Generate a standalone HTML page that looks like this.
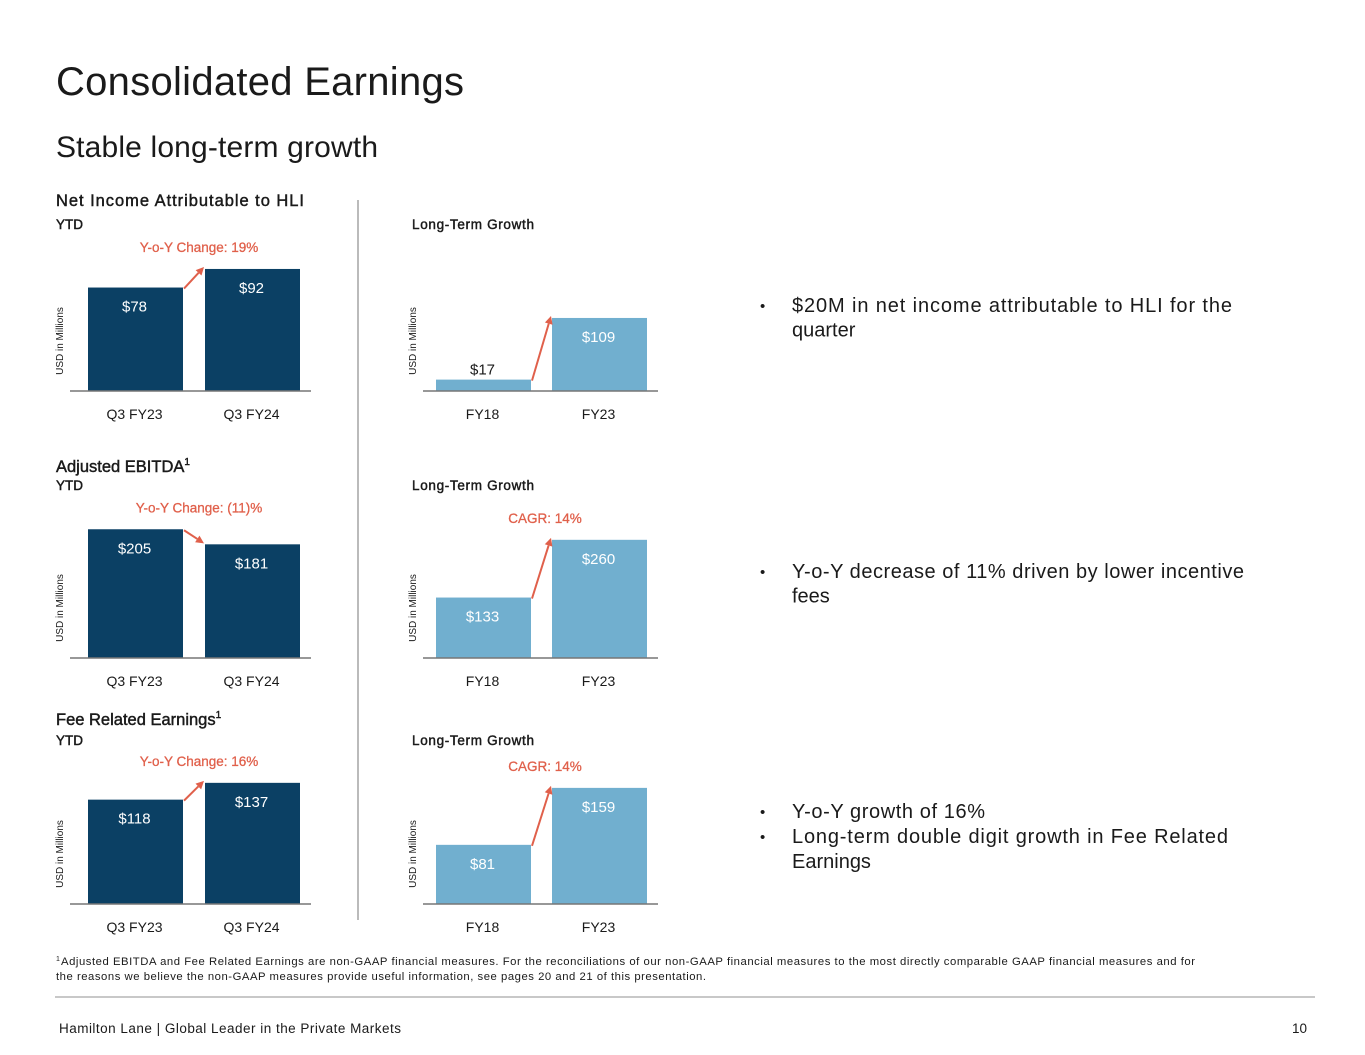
<!DOCTYPE html>
<html><head><meta charset="utf-8">
<style>
html,body{margin:0;padding:0;background:#fff;}
svg{display:block;font-family:"Liberation Sans",sans-serif;}
.hd{stroke:#1a1a1a;stroke-width:0.45;}
</style></head>
<body>
<svg id="s" width="1365" height="1055" viewBox="0 0 1365 1055" xmlns="http://www.w3.org/2000/svg">
<text x="56" y="95" font-size="40" fill="#1a1a1a" textLength="408">Consolidated Earnings</text>
<text x="56" y="157" font-size="30" fill="#1a1a1a" textLength="322">Stable long-term growth</text>
<line x1="358" y1="200" x2="358" y2="920" stroke="#bbb" stroke-width="2"/>

<text class="hd" x="56" y="206" font-size="16.5" fill="#1a1a1a" textLength="248">Net Income Attributable to HLI</text>
<text class="hd" x="56" y="229" font-size="13.5" fill="#1a1a1a">YTD</text>
<text class="hd" x="412" y="229" font-size="13.5" fill="#1a1a1a" textLength="122">Long-Term Growth</text>

<text class="hd" x="56" y="472" font-size="16.5" fill="#1a1a1a">Adjusted EBITDA<tspan font-size="10" dy="-7">1</tspan></text>
<text class="hd" x="56" y="490" font-size="13.5" fill="#1a1a1a">YTD</text>
<text class="hd" x="412" y="490" font-size="13.5" fill="#1a1a1a" textLength="122">Long-Term Growth</text>

<text class="hd" x="56" y="725" font-size="16.5" fill="#1a1a1a">Fee Related Earnings<tspan font-size="10" dy="-7">1</tspan></text>
<text class="hd" x="56" y="745" font-size="13.5" fill="#1a1a1a">YTD</text>
<text class="hd" x="412" y="745" font-size="13.5" fill="#1a1a1a" textLength="122">Long-Term Growth</text>

<g font-size="20" fill="#1a1a1a">
<text x="760" y="311" font-size="15">•</text><text x="792" y="312"><tspan x="792" textLength="440">$20M in net income attributable to HLI for the</tspan><tspan x="792" dy="24.5">quarter</tspan></text>
<text x="760" y="577" font-size="15">•</text><text x="792" y="578"><tspan x="792" textLength="452">Y-o-Y decrease of 11% driven by lower incentive</tspan><tspan x="792" dy="24.5">fees</tspan></text>
<text x="760" y="817" font-size="15">•</text><text x="792" y="818" textLength="193">Y-o-Y growth of 16%</text>
<text x="760" y="842" font-size="15">•</text><text x="792" y="843"><tspan x="792" textLength="436">Long-term double digit growth in Fee Related</tspan><tspan x="792" dy="25">Earnings</tspan></text>
</g>

<text font-size="11.3" fill="#1a1a1a"><tspan x="56" y="961" font-size="7">1</tspan><tspan x="61" y="965" textLength="1134">Adjusted EBITDA and Fee Related Earnings are non-GAAP financial measures. For the reconciliations of our non-GAAP financial measures to the most directly comparable GAAP financial measures and for</tspan><tspan x="56" y="980" textLength="650">the reasons we believe the non-GAAP measures provide useful information, see pages 20 and 21 of this presentation.</tspan></text>
<line x1="55" y1="997" x2="1315" y2="997" stroke="#c8c8c8" stroke-width="2"/>
<text x="59" y="1033" font-size="13.5" fill="#1a1a1a" textLength="342">Hamilton Lane  |  Global Leader in the Private Markets</text>
<text x="1307" y="1033" font-size="13.5" fill="#1a1a1a" text-anchor="end">10</text>
<g id="charts"></g>
</svg>
<script>
const ytdCats = ['Q3 FY23', 'Q3 FY24'];
const ltCats = ['FY18', 'FY23'];
const netYtdVals = [78, 92];
const netLtVals = [17, 109];
const ebitdaYtdVals = [205, 181];
const ebitdaLtVals = [133, 260];
const freYtdVals = [118, 137];
const freLtVals = [81, 159];
const changeLabels = ['Y-o-Y Change: 19%', 'Y-o-Y Change: (11)%', 'Y-o-Y Change: 16%'];
const cagrLabels = ['', 'CAGR: 14%', 'CAGR: 14%'];

const NS = 'http://www.w3.org/2000/svg';
const root = document.getElementById('charts');
function mk(tag, attrs, parent) {
  const e = document.createElementNS(NS, tag);
  for (const k in attrs) e.setAttribute(k, attrs[k]);
  (parent || root).appendChild(e);
  return e;
}
const DARK = '#0b4064', LIGHT = '#71afcf', RED = '#e0604b';
const H = 130;
const specs = [
  {name:'net-income-ytd', vals:netYtdVals, cats:ytdCats, base:391, ax0:70, ax1:311, bx:[88,205], max:98, color:DARK, label:changeLabels[0], lx:199},
  {name:'net-income-lt', vals:netLtVals, cats:ltCats, base:391, ax0:423, ax1:658, bx:[436,552], max:194, color:LIGHT, label:cagrLabels[0], lx:545},
  {name:'ebitda-ytd', vals:ebitdaYtdVals, cats:ytdCats, base:658, ax0:70, ax1:311, bx:[88,205], max:207, color:DARK, label:changeLabels[1], lx:199},
  {name:'ebitda-lt', vals:ebitdaLtVals, cats:ltCats, base:658, ax0:423, ax1:658, bx:[436,552], max:286, color:LIGHT, label:cagrLabels[1], lx:545},
  {name:'fre-ytd', vals:freYtdVals, cats:ytdCats, base:904, ax0:70, ax1:311, bx:[88,205], max:147, color:DARK, label:changeLabels[2], lx:199},
  {name:'fre-lt', vals:freLtVals, cats:ltCats, base:904, ax0:423, ax1:658, bx:[436,552], max:178, color:LIGHT, label:cagrLabels[2], lx:545}
];
const BW = 95;
specs.forEach(function(sp) {
  const g = mk('g', {});
  
  
  const y = function(v) { return sp.base - v / sp.max * H; };
  const tops = [];
  sp.vals.forEach(function(v, i) {
    const t = y(v);
    tops.push(t);
    const r = mk('rect', {x: sp.bx[i], y: t, width: BW, height: sp.base - t, fill: sp.color}, g);
    
    
    const small = sp.base - t < 30;
    const tx = mk('text', {x: sp.bx[i] + BW / 2 - 1, y: small ? t - 5 : t + 24, 'font-size': 15, 'text-anchor': 'middle', fill: small ? '#1a1a1a' : '#fff'}, g);
    tx.textContent = '$' + v;
    
    
    const c = mk('text', {x: sp.bx[i] + BW / 2 - 1, y: sp.base + 28, 'font-size': 14, 'text-anchor': 'middle', fill: '#1a1a1a'}, g);
    c.textContent = sp.cats[i];
    
    
  });
  const ax = mk('line', {x1: sp.ax0, x2: sp.ax1, y1: sp.base, y2: sp.base, stroke: '#777', 'stroke-width': 1.5}, g);
  
  
  const yt = sp.ax0 - 7, ym = sp.base - 50;
  const at = mk('text', {x: yt, y: ym, 'font-size': 10, 'text-anchor': 'middle', fill: '#1a1a1a', transform: 'rotate(-90 ' + yt + ' ' + ym + ')'}, g);
  at.textContent = 'USD in Millions';
  
  
  const x1 = sp.bx[0] + BW + 1, y1 = tops[0] + 1, x2 = sp.bx[1] - 1, y2 = tops[1] + (tops[1] > tops[0] ? -1 : -2);
  const ang = Math.atan2(y2 - y1, x2 - x1), hl = 8, hw = 4;
  const ar = mk('g', {}, g);
  
  
  const bx = x2 - hl * Math.cos(ang), by = y2 - hl * Math.sin(ang);
  mk('line', {x1: x1, y1: y1, x2: bx, y2: by, stroke: RED, 'stroke-width': 2}, ar);
  mk('polygon', {points: x2 + ',' + y2 + ' ' + (bx + hw * Math.sin(ang)) + ',' + (by - hw * Math.cos(ang)) + ' ' + (bx - hw * Math.sin(ang)) + ',' + (by + hw * Math.cos(ang)), fill: RED}, ar);
  if (sp.label) {
    const lt = mk('text', {x: sp.lx, y: Math.min(tops[0], tops[1]) - 17, 'font-size': 13.5, 'text-anchor': 'middle', fill: RED, stroke: RED, 'stroke-width': 0.3}, g);
    lt.textContent = sp.label;
    
    
  }
});
</script>
</body></html>
